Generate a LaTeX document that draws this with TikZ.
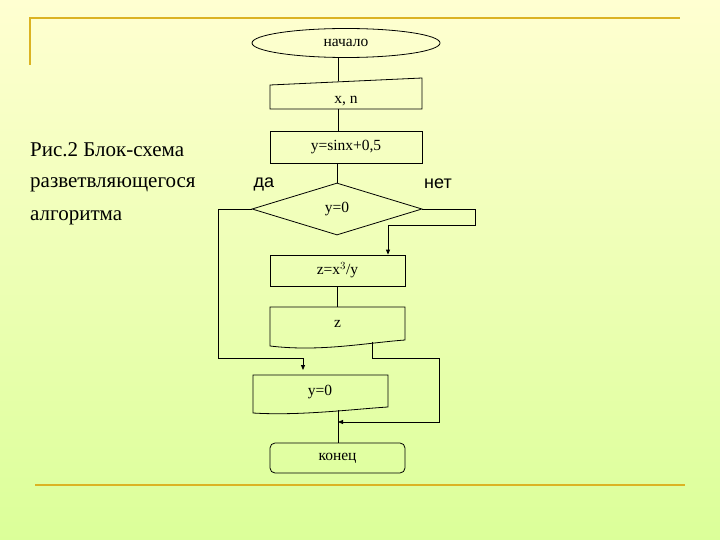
\documentclass[tikz,border=0pt]{standalone}
\usepackage{fontspec}
\setmainfont{Liberation Serif}
\newfontfamily\arialf{Liberation Sans}
\usetikzlibrary{shapes.geometric,arrows.meta}
\begin{document}
\begin{tikzpicture}[x=1pt,y=-1pt,
  ln/.style={draw=black,line width=0.8pt},
  arr/.style={ln,-{Triangle[length=5pt,width=4pt]}},
  gold/.style={draw=yellow!60!orange!85!black,line width=2pt},
  lbl/.style={font=\fontsize{15.5}{15.5}\selectfont,inner sep=0pt},
  big/.style={font=\fontsize{21}{21}\selectfont,inner sep=0pt,anchor=west},
  yn/.style={font=\arialf\fontsize{18}{18}\selectfont,inner sep=0pt}]
\useasboundingbox (0,0) rectangle (720,540);
\shade[top color=yellow!18,bottom color=green!35!yellow!40] (0,0) rectangle (720,540);
\draw[gold] (30,65) -- (30,18) -- (680,18);
\draw[gold] (35,485) -- (685,485);
\node[big] (t1) at (30,150) {Рис.2 Блок-схема};
\node[big] (t2) at (30,185) {разветвляющегося};
\node[big] (t3) at (30,218) {алгоритма};
% start
\node[ellipse,ln,minimum width=188pt,minimum height=29pt,inner sep=0pt,lbl] (start) at (346,43) {начало};
% input
\draw[ln] (270,85) -- (422,78) -- (422,109) -- (270,109) -- cycle;
\node[lbl] (inp) at (346,101) {x, n};
\coordinate (inpT) at (338,81.5); \coordinate (inpB) at (338,109);
% compute
\node[rectangle,ln,minimum width=152pt,minimum height=32pt,lbl] (calc) at (346,147) {y=sinx+0,5};
% decision
\node[diamond,ln,minimum width=170pt,minimum height=52pt,inner sep=0pt,aspect=3.3,lbl] (dec) at (337,209) {y=0};
\node[yn] (da) at (264,184) {да};
\node[yn] (net) at (438,184) {нет};
% z compute
\node[rectangle,ln,minimum width=135pt,minimum height=31pt,lbl] (zc) at (337.5,270.5) {z=x$^3$/y};
% display z
\draw[ln] (270,307) -- (405,307) -- (405,340) .. controls (365,343) and (320,352) .. (270,346) -- cycle;
\node[lbl] (zd) at (337.5,324) {z};
\coordinate (zdT) at (337.5,307); \coordinate (zdB) at (372,341.5);
% display y=0
\draw[ln] (253,375) -- (388,375) -- (388,407) .. controls (355,409) and (300,416) .. (253,413) -- cycle;
\node[lbl] (yd) at (320,392) {y=0};
\coordinate (ydB) at (338,410);
% end
\node[rectangle,rounded corners=5pt,ln,minimum width=135pt,minimum height=30pt,lbl] (fin) at (337.5,458) {конец};
% connectors
\coordinate (c1) at (338,57);
\draw[ln] (start.south -| c1) -- (inpT);
\draw[ln] (inpB) -- (calc.north -| inpB);
\draw[ln] (calc.south -| dec.north) -- (dec.north);
\coordinate (l1) at (218,358); \coordinate (l2) at (303,358); \coordinate (l3) at (303,370);
\draw[arr] (dec.west) -| (l1) -- (l2) -- (l3);
\coordinate (r1) at (475,225); \coordinate (r2) at (388,225);
\draw[arr] (dec.east) -| (r1) -- (r2) -- (r2 |- zc.north);
\draw[ln] (zc.south -| zdT) -- (zdT);
\coordinate (m1) at (372,358); \coordinate (m2) at (439,358); \coordinate (m3) at (439,422); \coordinate (m4) at (338,422);
\draw[arr] (zdB) -- (m1) -- (m2) -- (m3) -- (m4);
\draw[ln] (ydB) -- (fin.north -| ydB);
\end{tikzpicture}
\end{document}
